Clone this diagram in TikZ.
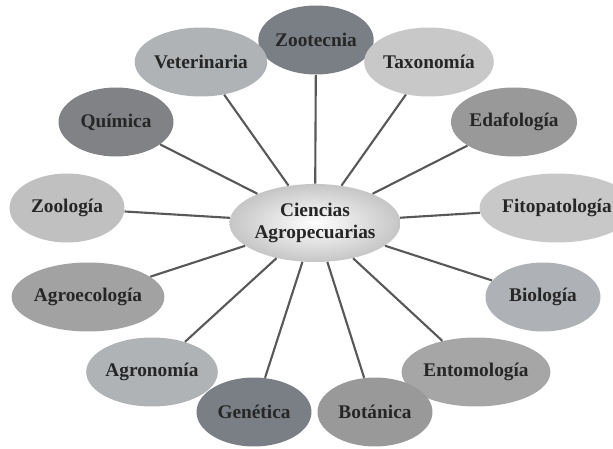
\documentclass[tikz,border=0pt]{standalone}
\usepackage{fontspec}
\setmainfont{Liberation Serif}
\usepackage{tikz}
\usetikzlibrary{shapes.geometric}

\definecolor{darkA}{RGB}{122,127,133}
\definecolor{darkB}{RGB}{128,130,134}
\definecolor{midA}{RGB}{153,153,153}
\definecolor{midB}{RGB}{162,162,162}
\definecolor{midC}{RGB}{166,166,166}
\definecolor{blueA}{RGB}{176,179,182}
\definecolor{blueB}{RGB}{174,178,182}
\definecolor{lightA}{RGB}{200,200,200}
\definecolor{lightB}{RGB}{192,192,192}
\definecolor{spoke}{RGB}{88,88,88}

\begin{document}
\begin{tikzpicture}[x=0.02cm,y=-0.02cm,
    area/.style={ellipse,
        draw=none,
        inner sep=0pt,
        minimum width=2.3cm,
        minimum height=1.38cm,
        font=\fontsize{11}{13}\selectfont\bfseries,
        text=black!85},
    link/.style={draw=spoke,
        line width=1.2pt}]

    \useasboundingbox (0,0) rectangle (613,449);

    % centre
    \node[ellipse,
          inner sep=0pt,
          shading=radial,
          inner color=white,
          outer color=gray!45,
          minimum width=3.3cm,
          minimum height=1.56cm,
          align=center,
          font=\fontsize{11}{13}\selectfont\bfseries,
          text=black!85] (CA) at (315,223) {Ciencias\\Agropecuarias};

    % upper ring
    \node[area, fill=darkA] (Zootecnia) at (316,40) {Zootecnia};
    \node[area, fill=blueA] (Veterinaria) at (201,62) {Veterinaria};
    \node[area, fill=lightA] (Taxonomia) at (429,62) {Taxonomía};
    \node[area, fill=darkB] (Quimica) at (116,122) {Química};
    \node[area, fill=midA] (Edafologia) at (514,122) {Edafología};
    \node[area, fill=lightB] (Zoologia) at (67,208) {Zoología};
    \node[area, fill=lightA] (Fitopatologia) at (557,208) {Fitopatología};

    % lower ring
    \node[area, fill=midB] (Agroecologia) at (88,297) {Agroecología};
    \node[area, fill=blueB] (Biologia) at (543,297) {Biología};
    \node[area, fill=blueA] (Agronomia) at (152,372) {Agronomía};
    \node[area, fill=midC] (Entomologia) at (476,372) {Entomología};
    \node[area, fill=darkA] (Genetica) at (254,412) {Genética};
    \node[area, fill=midA] (Botanica) at (375,412) {Botánica};

    % spokes
    \draw[link] (CA) -- (Zootecnia);
    \draw[link] (CA) -- (Veterinaria);
    \draw[link] (CA) -- (Taxonomia);
    \draw[link] (CA) -- (Quimica);
    \draw[link] (CA) -- (Edafologia);
    \draw[link] (CA) -- (Zoologia);
    \draw[link] (CA) -- (Fitopatologia);
    \draw[link] (CA) -- (Agroecologia);
    \draw[link] (CA) -- (Biologia);
    \draw[link] (CA) -- (Agronomia);
    \draw[link] (CA) -- (Entomologia);
    \draw[link] (CA) -- (Genetica);
    \draw[link] (CA) -- (Botanica);

\end{tikzpicture}
\end{document}
